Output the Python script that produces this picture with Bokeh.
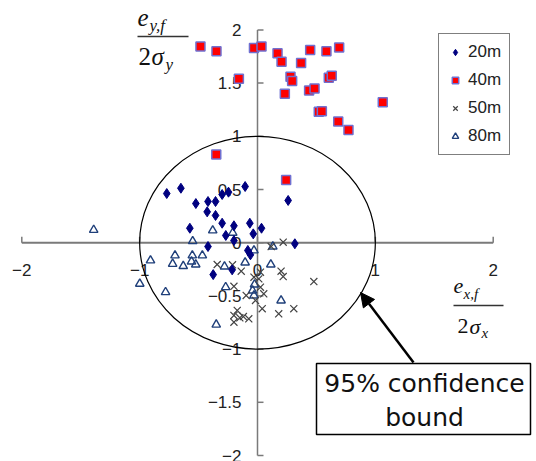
from bokeh.plotting import figure
from bokeh.models import Range1d, Arrow, NormalHead
from bokeh.core.properties import value
from bokeh.embed import file_html
from bokeh.resources import INLINE

# ---------------- data ----------------
x20 = [-0.77, -0.65, -0.105, -0.246, -0.30, -0.523, -0.42, -0.356, 0.26, -0.427, -0.356,
       -0.30, -0.065, -0.574, -0.20, 0.034, -0.269, -0.036, -0.20, 0.317, -0.42, -0.082,
       -0.06, -0.215, -0.376]
y20 = [0.462, 0.512, 0.528, 0.475, 0.453, 0.368, 0.387, 0.387, 0.397, 0.29, 0.256,
       0.183, 0.183, 0.136, 0.159, 0.136, 0.068, 0.083, 0.02, -0.01, -0.036, -0.073,
       -0.114, -0.255, -0.30]

x40 = [-0.484, -0.348, -0.03, 0.034, 0.17, 0.204, -0.158, 0.28, 0.294, 0.232, 0.37,
       0.447, 0.585, 0.693, 0.438, 0.484, 0.605, 0.63, 0.52, 0.546, 1.063, 0.685,
       0.772, -0.35, 0.243]
y40 = [1.844, 1.80, 1.83, 1.844, 1.78, 1.70, 1.54, 1.56, 1.52, 1.40, 1.69,
       1.81, 1.80, 1.835, 1.43, 1.45, 1.55, 1.57, 1.23, 1.236, 1.32, 1.14,
       1.06, 0.83, 0.59]

x50 = [0.218, 0.116, -0.342, -0.212, -0.138, 0.025, 0.20, 0.218, 0.478, 0.011, -0.20,
       0.025, 0.053, -0.096, -0.017, 0.04, 0.18, 0.308, -0.172, -0.20, -0.12, -0.074,
       -0.20, -0.15, -0.03]
y50 = [0.005, -0.036, -0.205, -0.208, -0.268, -0.277, -0.268, -0.318, -0.365, -0.34, -0.41,
       -0.418, -0.48, -0.496, -0.543, -0.62, -0.668, -0.62, -0.637, -0.684, -0.694, -0.715,
       -0.747, -0.706, -0.324]

x80 = [-1.39, -0.38, -0.21, -0.55, 0.13, -0.03, -0.908, -0.70, -0.72, -0.63, -0.553,
       -0.56, -0.524, -0.468, -0.28, -0.105, 0.113, -0.999, -0.78, -0.27, -0.025, -0.042,
       -0.03, 0.20, -0.35]
y80 = [0.12, 0.115, 0.093, 0.014, -0.036, -0.073, -0.167, -0.12, -0.199, -0.22, -0.12,
       -0.177, -0.205, -0.12, -0.224, -0.186, -0.205, -0.386, -0.465, -0.418, -0.393, -0.45,
       -0.496, -0.543, -0.77]

x_ticks = [-2, -1, 0, 1, 2]
x_tick_labels = ["\u22122", "\u22121", "0", "1", "2"]
y_ticks = [-2, -1.5, -1, -0.5, 0, 0.5, 1, 1.5, 2]
y_tick_labels = ["\u22122", "\u22121.5", "\u22121", "\u22120.5", "0", "0.5", "1", "1.5", "2"]

bound_radius = 1.0
annotation_lines = ["95% confidence", "bound"]

# ---------------- layout helpers (pixel -> data) ----------------
W, H = 536, 461
X0PX, XUNIT = 257.0, 117.85
Y0PX, YUNIT = 242.2, 106.4


def dx(px):
    return (px - X0PX) / XUNIT


def dy(py):
    return (Y0PX - py) / YUNIT


p = figure(width=W, height=H, x_range=Range1d(dx(0), dx(W)), y_range=Range1d(dy(H), dy(0)),
           output_backend="svg", toolbar_location=None, tools="",
           x_axis_location=None, y_axis_location=None, min_border=0, title=None)
p.grid.grid_line_color = None
p.outline_line_color = None
p.background_fill_color = "white"
p.border_fill_color = "white"

AX = "#7a7a7a"
# axis lines
p.segment(x0=[x_ticks[0]], y0=[0], x1=[x_ticks[-1]], y1=[0], line_color=AX, line_width=2)
p.segment(x0=[0], y0=[y_ticks[0]], x1=[0], y1=[y_ticks[-1]], line_color=AX, line_width=1.5)
# ticks (x: upward, y: rightward)
tick_dy = 6 / YUNIT
tick_dx = 6 / XUNIT
p.segment(x0=x_ticks, y0=[0] * len(x_ticks), x1=x_ticks, y1=[tick_dy] * len(x_ticks),
          line_color=AX, line_width=1.5)
p.segment(x0=[0] * len(y_ticks), y0=y_ticks, x1=[tick_dx] * len(y_ticks), y1=y_ticks,
          line_color=AX, line_width=1.5)

TICKFONT = value("Liberation Sans")
p.text(x=x_ticks, y=[0] * len(x_ticks), text=x_tick_labels, text_font=TICKFONT,
       text_font_size="17px", text_color="#222222", text_align="center",
       text_baseline="middle", y_offset=27)
p.text(x=[0] * len(y_ticks), y=y_ticks, text=y_tick_labels, text_font=TICKFONT,
       text_font_size="17px", text_color="#222222", text_align="right",
       text_baseline="middle", x_offset=-16, y_offset=0)

# confidence circle
p.ellipse(x=[0], y=[0], width=[2 * bound_radius], height=[2 * bound_radius],
          fill_color=None, line_color="black", line_width=1.2)

# series
r80 = p.scatter(x=x80, y=y80, marker="triangle", size=8.5, fill_color=None, line_color="#1f3f7a",
                line_width=1.4, legend_label="80m")
r50 = p.scatter(x=x50, y=y50, marker="x", size=10, line_color="#444444", line_width=1.2,
                legend_label="50m")
r40 = p.scatter(x=x40, y=y40, marker="square", size=9, fill_color="#ff0000", line_color="#7070d0",
                line_width=1.5, legend_label="40m")
r20 = p.scatter(x=x20, y=y20, marker="diamond", size=10, fill_color="#000080",
                line_color="#000080", line_width=1, legend_label="20m")

# legend
leg = p.legend[0]
leg.items = list(reversed(leg.items))
leg.location = (438, H - 155)
leg.label_text_font = "Liberation Sans"
leg.label_text_font_size = "17px"
leg.label_text_color = "#222222"
leg.glyph_width = 16
leg.glyph_height = 20
leg.label_height = 20
leg.label_standoff = 5
leg.spacing = 8
leg.padding = 8
leg.margin = 0
leg.border_line_color = "black"
leg.border_line_width = 1.2
leg.background_fill_color = "white"
leg.background_fill_alpha = 1.0

# axis titles (math-like text)
SERIF = value("Liberation Serif")


def mtext(px, py_base, s, size_px, italic=True):
    # place by baseline: convert to the vertical middle of the em box
    py_mid = py_base - 0.32 * size_px
    p.text(x=[dx(px)], y=[dy(py_mid)], text=[s], text_font=SERIF,
           text_font_size=f"{size_px}px",
           text_font_style="italic" if italic else "normal", text_color="#111111",
           text_align="left", text_baseline="middle")


# y label
mtext(137, 25, "e", 25)
mtext(149, 30, "y,f", 17)
p.segment(x0=[dx(137)], y0=[dy(36)], x1=[dx(188)], y1=[dy(36)], line_color="#333333", line_width=1.3)
mtext(138, 64, "2", 25, italic=False)
mtext(151, 64, "\u03c3", 25)
mtext(165, 69, "y", 17)

# x label
mtext(453, 293, "e", 22)
mtext(463, 298, "x,f", 15)
p.segment(x0=[dx(453)], y0=[dy(305)], x1=[dx(503)], y1=[dy(305)], line_color="#333333", line_width=1.3)
mtext(457, 333, "2", 22, italic=False)
mtext(469, 333, "\u03c3", 22)
mtext(481, 337, "x", 15)

# annotation: arrow + box
p.add_layout(Arrow(end=NormalHead(size=14, fill_color="black", line_color="black"),
                   x_start=dx(413), y_start=dy(362), x_end=dx(360), y_end=dy(292),
                   line_color="black", line_width=2.5))
p.quad(left=[dx(316)], right=[dx(530)], top=[dy(363)], bottom=[dy(434)],
       fill_color="white", line_color="black", line_width=1.5)
p.text(x=[dx(424), dx(424)], y=[dy(391 - 8), dy(425 - 8)], text=annotation_lines,
       text_font=value("DejaVu Sans"), text_font_size="25px", text_color="#111111",
       text_align="center", text_baseline="middle")

open("out.html", "w").write(file_html(p, INLINE))
